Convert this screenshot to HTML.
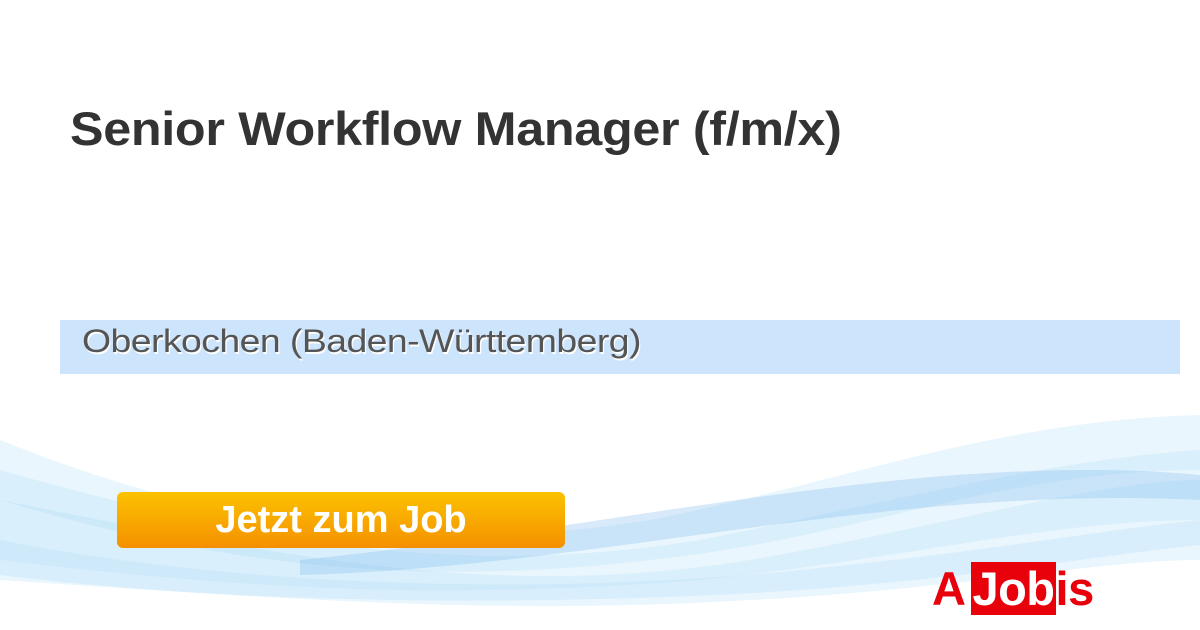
<!DOCTYPE html>
<html><head><meta charset="utf-8"><style>
html,body{margin:0;padding:0}
body{width:1200px;height:630px;position:relative;overflow:hidden;background:#fff;font-family:"Liberation Sans",sans-serif}
.t{position:absolute;left:70px;top:101px;font-size:47px;font-weight:bold;color:#333;letter-spacing:-0.3px;transform-origin:0 0;transform:scaleX(1.07);white-space:nowrap}
.band{position:absolute;left:60px;top:320px;width:1120px;height:54px;background:#cce4fc}
.loc{position:absolute;left:82px;top:323px;font-size:32px;color:#555;text-shadow:1px 2px 0 #fff;letter-spacing:-0.5px;transform-origin:0 0;transform:scaleX(1.17);white-space:nowrap}
.btn{position:absolute;left:117px;top:492px;width:448px;height:56px;border-radius:6px;background:linear-gradient(#fbc200,#f59000);color:#fff;font-weight:bold;font-size:38px;text-align:center;line-height:56px;letter-spacing:0}
.logo{position:absolute;left:932px;top:564px;font-size:47px;font-weight:bold;color:#e8000b;line-height:50px;letter-spacing:-0.5px;white-space:nowrap}
.logo span{background:#e8000b;color:#fff;padding:0 1px 0 1px;margin-left:6px}
</style></head><body>
<svg width="1200" height="630" style="position:absolute;left:0;top:0">
<g fill="#9fd4f7" fill-opacity="0.22">
<path d="M0 440 C200 520 400 560 650 520 C850 480 1000 420 1200 415 L1200 470 C1000 470 850 540 650 560 C400 590 200 560 0 500Z"/>
<path d="M0 470 C250 540 450 580 700 540 C900 500 1050 460 1200 450 L1200 520 C1050 520 900 560 700 580 C450 600 250 590 0 560Z"/>
<path d="M0 500 C300 560 500 600 750 560 C950 525 1100 480 1200 480 L1200 560 C1100 560 950 590 750 600 C500 615 300 600 0 580Z"/>
<path d="M300 560 C500 540 700 500 900 480 C1050 465 1150 470 1200 475 L1200 500 C1100 495 1000 500 900 510 C700 530 500 570 300 575Z" fill="#7fb8ef" fill-opacity="0.3"/>
<path d="M0 540 C200 580 500 600 800 570 C1000 550 1100 530 1200 520 L1200 545 C1100 555 1000 575 800 590 C500 610 200 600 0 575Z" fill="#bde3fa" fill-opacity="0.4"/>
</g>
</svg>
<div class="t">Senior Workflow Manager (f/m/x)</div>
<div class="band"></div>
<div class="loc">Oberkochen (Baden-Württemberg)</div>
<div class="btn">Jetzt zum Job</div>
<div class="logo">A<span>Job</span>is</div>
</body></html>
